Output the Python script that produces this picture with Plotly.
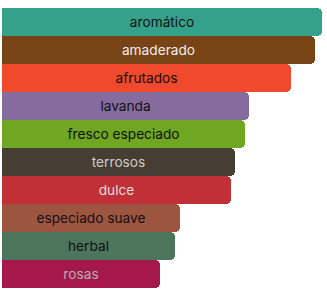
import plotly.graph_objects as go

categories = ["aromático", "amaderado", "afrutados", "lavanda", "fresco especiado",
              "terrosos", "dulce", "especiado suave", "herbal", "rosas"]
values = [320, 313, 289, 247, 243, 233, 229, 178, 173, 158]
colors = ["#36a18b", "#784315", "#f0492c", "#856b9e", "#6fa622",
          "#463d33", "#c23037", "#9e5540", "#4d755c", "#a5184b"]
text_colors = ["#111111", "#eeeeee", "#111111", "#111111", "#111111",
               "#cccccc", "#dddddd", "#111111", "#111111", "#b0b0b0"]

fig = go.Figure(go.Bar(
    x=values,
    y=categories,
    orientation="h",
    marker=dict(color=colors, line=dict(width=0)),
    text=categories,
    textposition="inside",
    insidetextanchor="middle",
    textangle=0,
    textfont=dict(color=text_colors, size=13.7, family="Inter"),
    hoverinfo="x+y",
))

fig.update_layout(
    width=327, height=295,
    margin=dict(l=2, r=5, t=8, b=7),
    paper_bgcolor="white", plot_bgcolor="white",
    bargap=0,
    barcornerradius=5,
    showlegend=False,
    xaxis=dict(range=[0, 320], visible=False, fixedrange=True),
    yaxis=dict(autorange="reversed", visible=False, fixedrange=True),
    uniformtext=dict(minsize=13, mode="show"),
)

fig.write_html("out.html", config={"displayModeBar": False})
